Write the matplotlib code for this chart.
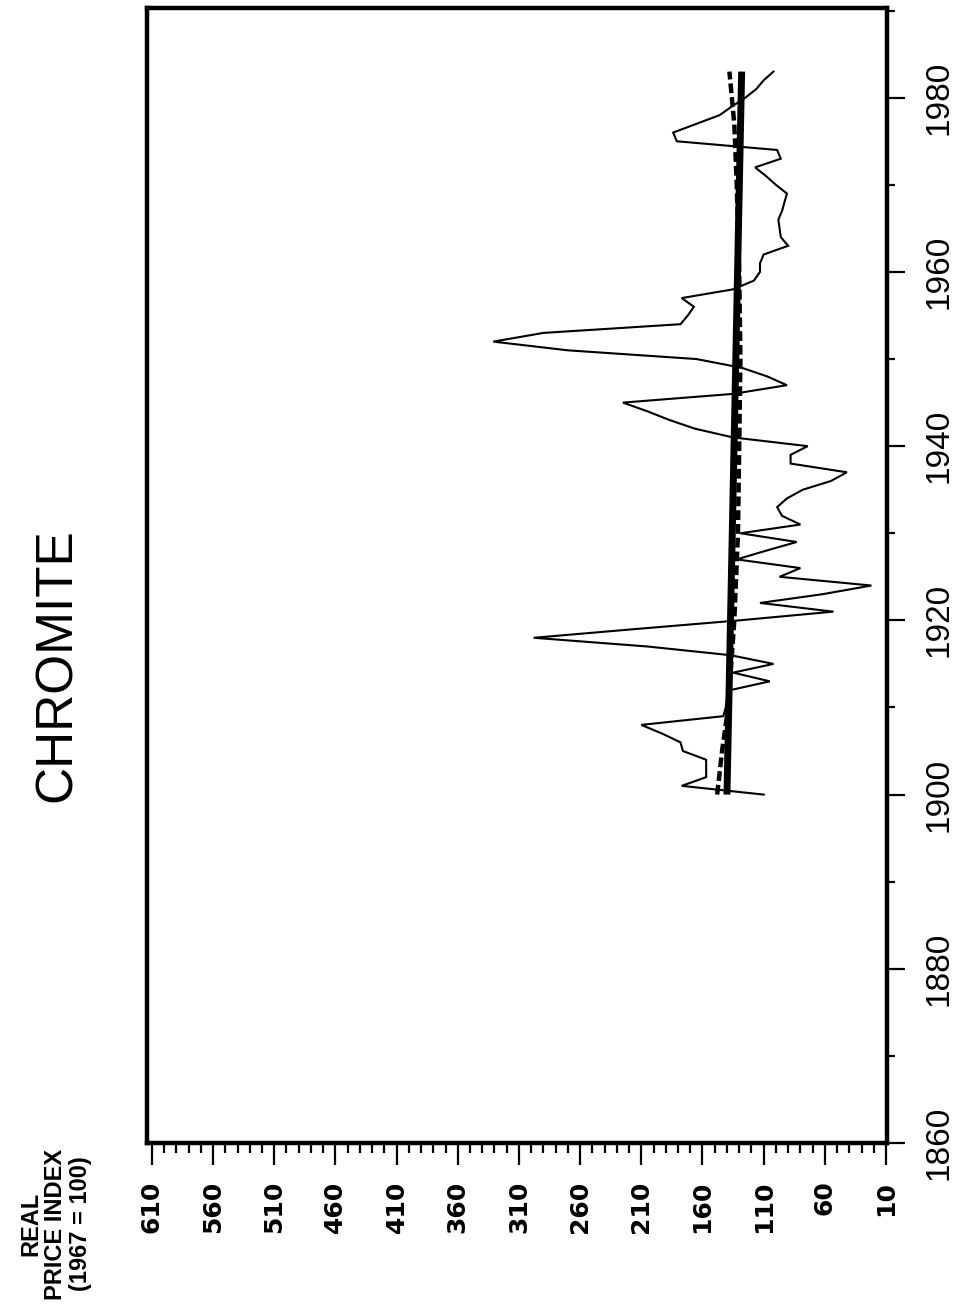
"""Chromite real price index, 1900-1983, drawn on a page turned sideways.

The year runs up the page and the price index runs right-to-left, so the
axes are swapped and all labels are set at 90 degrees.
"""

import matplotlib

matplotlib.use("Agg")
import matplotlib.pyplot as plt

plt.rcParams["font.family"] = ["Liberation Sans", "DejaVu Sans"]

# annual real price index (1967 = 100)
years = list(range(1900, 1984))
price = [
    110, 177, 157, 157, 157, 176, 178, 193, 210, 143,   # 1900-1909
    141, 140, 137, 105, 135, 102, 137, 205, 298, 215,   # 1910-1919
    130, 53, 113, 62, 22, 97, 80, 132, 108, 83,         # 1920-1929
    129, 80, 95, 99, 91, 78, 55, 42, 88, 88,            # 1930-1939
    74, 135, 166, 187, 205, 225, 135, 91, 107, 128,     # 1940-1949
    165, 270, 331, 290, 178, 172, 167, 177, 135, 118,   # 1950-1959
    113, 113, 110, 90, 96, 97, 98, 95, 93, 91,          # 1960-1969
    100, 108, 117, 96, 99, 181, 184, 165, 146, 136,     # 1970-1979
    125, 116, 110, 102,                                 # 1980-1983
]

# linear trend
trend_years = [1900, 1983]
trend_price = [140, 128]

# quadratic trend, read at a few years
curve_years = [1900, 1905, 1910, 1920, 1930, 1940, 1950, 1960, 1970, 1977, 1983]
curve_price = [148, 144, 139, 134, 131, 130, 129, 130, 132, 134, 138]

price_ticks = list(range(10, 611, 50))
year_ticks = list(range(1860, 1981, 20))

W, H = 959, 1309
fig = plt.figure(figsize=(W / 100, H / 100), dpi=100)
ax = fig.add_axes([147 / W, (H - 1143) / H, (887 - 147) / W, (1143 - 8) / H])

ax.plot(price, years, color="black", linewidth=1.5, solid_joinstyle="miter")
ax.plot(curve_price, curve_years, color="black", linewidth=3.2,
        linestyle=(0, (2.2, 0.9)))
ax.plot(trend_price, trend_years, color="black", linewidth=5.0,
        solid_capstyle="butt")

ax.set_xlim(614, 9.2)
ax.set_ylim(1860, 1990.3)

for side in ("left", "right", "top", "bottom"):
    ax.spines[side].set_linewidth(3.2)

# price axis along the bottom edge
ax.set_xticks(price_ticks)
ax.set_xticks(range(10, 611, 10), minor=True)
ax.set_xticklabels([str(v) for v in price_ticks], rotation=90, ha="center",
                   va="top", fontsize=18, fontweight="bold",
                   family=["DejaVu Sans"])
ax.tick_params(axis="x", which="major", direction="out", length=16, width=1.6,
               pad=11)
ax.tick_params(axis="x", which="minor", direction="out", length=7, width=1.6)

# years along the right edge
ax.yaxis.tick_right()
ax.set_yticks(year_ticks)
ax.set_yticks(range(1860, 1991, 10), minor=True)
ax.set_yticklabels([str(y) for y in year_ticks], rotation=90, va="center",
                   fontsize=24)
ax.tick_params(axis="y", which="major", direction="out", length=13, width=1.6,
               pad=13)
ax.tick_params(axis="y", which="minor", direction="out", length=6, width=1.6)

fig.text(57 / W, 1 - 665 / H, "CHROMITE", rotation=90, ha="center",
         va="center", fontsize=37)
fig.text(56 / W, 1 - 1224 / H, "REAL\nPRICE INDEX\n(1967 = 100)", rotation=90,
         ha="center", va="center", multialignment="center", fontsize=17,
         fontweight="bold", linespacing=1.1)

fig.savefig("out.png", dpi=100)
plt.close(fig)
